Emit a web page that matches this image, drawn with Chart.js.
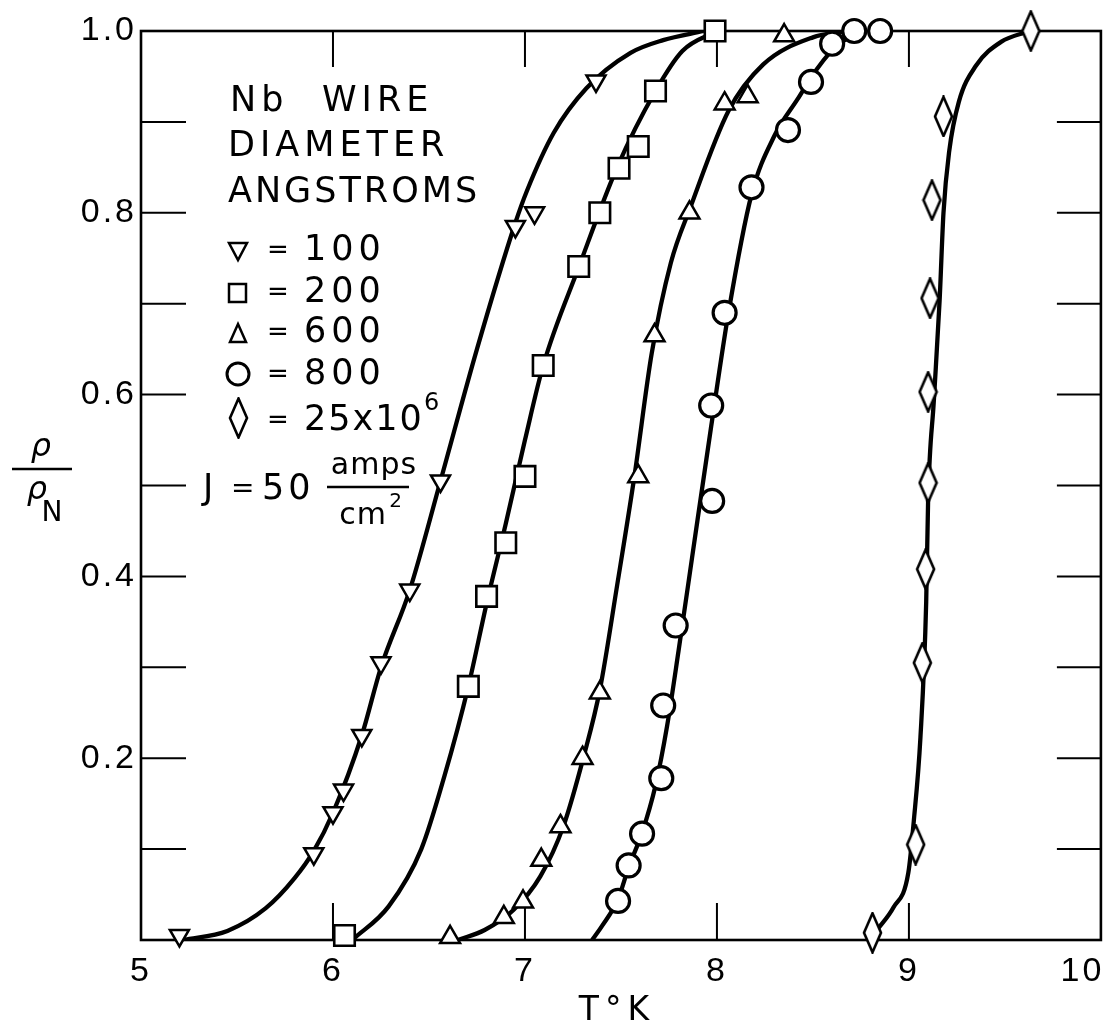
<!DOCTYPE html>
<html>
<head>
<meta charset="utf-8">
<title>Nb wire resistive transition</title>
<script src="https://cdn.jsdelivr.net/npm/chart.js@4.4.1/dist/chart.umd.min.js"></script>
<style>
  html, body { margin: 0; padding: 0; background: #fff; }
  #wrap { width: 1118px; height: 1028px; }
</style>
</head>
<body>
<div id="wrap"><canvas id="chart" width="1118" height="1028"></canvas></div>
<script>
// axis ticks
const xTicks = [5, 6, 7, 8, 9, 10]
const yTicks = [0.2, 0.4, 0.6, 0.8, 1.0]
const xInner = [6, 7, 8, 9]
const yInner = [0.1, 0.2, 0.3, 0.4, 0.5, 0.6, 0.7, 0.8, 0.9]

// measured points (T in K, rho / rho_N)
const t100 = [5.20, 5.90, 6.00, 6.055, 6.15, 6.25, 6.40, 6.56, 6.95, 7.05, 7.37]
const r100 = [0.005, 0.095, 0.14, 0.165, 0.225, 0.305, 0.385, 0.505, 0.785, 0.80, 0.945]

const t200 = [6.06, 6.705, 6.80, 6.90, 7.00, 7.095, 7.28, 7.39, 7.49, 7.59, 7.68, 7.99]
const r200 = [0.005, 0.279, 0.378, 0.437, 0.51, 0.632, 0.741, 0.80, 0.849, 0.873, 0.934, 1.0]

const t600 = [6.61, 6.89, 6.99, 7.085, 7.185, 7.30, 7.39, 7.59, 7.675, 7.857, 8.04, 8.16, 8.35]
const r600 = [0.003, 0.025, 0.042, 0.088, 0.125, 0.20, 0.272, 0.51, 0.665, 0.80, 0.92, 0.928, 0.995]

const t800 = [7.485, 7.54, 7.61, 7.71, 7.72, 7.785, 7.975, 7.97, 8.04, 8.18, 8.37, 8.49, 8.60, 8.715, 8.85]
const r800 = [0.043, 0.082, 0.117, 0.178, 0.258, 0.346, 0.483, 0.588, 0.69, 0.828, 0.891, 0.944, 0.986, 1.0, 1.0]

const tBulk = [8.81, 9.035, 9.07, 9.087, 9.10, 9.10, 9.11, 9.12, 9.18, 9.635]
const rBulk = [0.008, 0.105, 0.305, 0.408, 0.503, 0.603, 0.706, 0.814, 0.906, 1.0]

// hand-drawn fit curves
const c100T = [5.22, 5.45, 5.65, 5.80, 5.90, 6.00, 6.15, 6.25, 6.40, 6.56, 6.75, 6.95, 7.01, 7.15, 7.32, 7.55, 7.72, 7.93]
const c100R = [0.0, 0.01, 0.035, 0.068, 0.098, 0.14, 0.225, 0.30, 0.385, 0.505, 0.65, 0.789, 0.824, 0.888, 0.937, 0.976, 0.99, 1.0]

const c200T = [6.10, 6.29, 6.46, 6.58, 6.705, 6.80, 6.90, 7.00, 7.095, 7.28, 7.48, 7.68, 7.82, 8.0]
const c200R = [0.0, 0.037, 0.10, 0.18, 0.279, 0.37, 0.458, 0.55, 0.632, 0.74, 0.85, 0.934, 0.978, 1.0]

const c600T = [6.65, 6.79, 6.94, 7.08, 7.20, 7.31, 7.39, 7.48, 7.57, 7.66, 7.76, 7.86, 8.06, 8.24, 8.50, 8.68]
const c600R = [0.0, 0.011, 0.033, 0.07, 0.125, 0.205, 0.275, 0.39, 0.51, 0.645, 0.745, 0.805, 0.912, 0.963, 0.993, 1.0]

const c800T = [7.35, 7.40, 7.485, 7.54, 7.61, 7.68, 7.74, 7.80, 7.87, 7.97, 8.06, 8.18, 8.30, 8.42, 8.52, 8.63, 8.78]
const c800R = [0.0, 0.015, 0.045, 0.08, 0.118, 0.17, 0.235, 0.318, 0.42, 0.565, 0.69, 0.82, 0.885, 0.925, 0.958, 0.985, 1.0]

const cBulkT = [8.83, 8.92, 8.997, 9.025, 9.06, 9.09, 9.10, 9.13, 9.16, 9.18, 9.21, 9.26, 9.35, 9.48, 9.63]
const cBulkR = [0.01, 0.036, 0.074, 0.13, 0.223, 0.372, 0.484, 0.594, 0.704, 0.80, 0.868, 0.922, 0.962, 0.988, 1.0]

const FONT = "'DejaVu Sans', sans-serif"
const TICK_FONT = "'Liberation Sans', Arial, sans-serif"
const AREA = { left: 141, top: 31, right: 1107, bottom: 940 }

function pts(xs, ys) {
    return xs.map((x, i) => ({ x: x, y: ys[i] }))
}

// tall open diamond used for the bulk sample
function diamondImage() {
    const c = document.createElement('canvas')
    c.width = 21
    c.height = 42
    const g = c.getContext('2d')
    g.beginPath()
    g.moveTo(10.5, 1.5)
    g.lineTo(19, 21)
    g.lineTo(10.5, 40.5)
    g.lineTo(2, 21)
    g.closePath()
    g.fillStyle = '#fff'
    g.fill()
    g.lineWidth = 2.6
    g.strokeStyle = '#000'
    g.stroke()
    return c
}
const diamond = diamondImage()

function curve(xs, ys) {
    return {
        data: pts(xs, ys),
        showLine: true,
        borderColor: '#000',
        borderWidth: 4.3,
        pointRadius: 0,
        cubicInterpolationMode: 'monotone',
        order: 2
    }
}

function marks(xs, ys, style) {
    return Object.assign({
        data: pts(xs, ys),
        showLine: false,
        pointBackgroundColor: '#fff',
        pointBorderColor: '#000',
        clip: false,
        order: 1
    }, style)
}

// frame, inward ticks and all the annotation text
const decor = {
    id: 'decor',
    beforeDraw(chart) {
        chart.ctx.letterSpacing = '3px'
    },
    beforeDatasetsDraw(chart) {
        const { ctx, chartArea: a, scales: { x, y } } = chart
        ctx.save()
        ctx.strokeStyle = '#000'
        ctx.lineWidth = 2
        ctx.beginPath()
        yInner.forEach(v => {
            const py = y.getPixelForValue(v)
            ctx.moveTo(a.left, py)
            ctx.lineTo(a.left + 45, py)
            ctx.moveTo(a.right, py)
            ctx.lineTo(a.right - 44, py)
        })
        xInner.forEach(v => {
            const px = x.getPixelForValue(v)
            ctx.moveTo(px, a.top)
            ctx.lineTo(px, a.top + 36)
            ctx.moveTo(px, a.bottom)
            ctx.lineTo(px, a.bottom - 37)
        })
        ctx.stroke()
        ctx.lineWidth = 2.6
        ctx.strokeRect(a.left, a.top, a.right - a.left, a.bottom - a.top)
        ctx.restore()
    },
    afterDraw(chart) {
        const ctx = chart.ctx
        ctx.save()
        ctx.fillStyle = '#000'
        ctx.strokeStyle = '#000'
        ctx.textBaseline = 'middle'
        ctx.textAlign = 'left'

        // heading
        ctx.font = '35px ' + FONT
        ctx.letterSpacing = '5px'
        ctx.fillText('Nb', 230, 102)
        ctx.fillText('WIRE', 322, 102)
        ctx.fillText('DIAMETER', 228, 147)
        ctx.letterSpacing = '3px'
        ctx.fillText('ANGSTROMS', 228, 193)

        // symbol rows
        const rows = [['100', 251], ['200', 293], ['600', 333], ['800', 375], ['25x10', 421]]
        rows.forEach(([txt, yy], i) => {
            ctx.font = '26px ' + FONT
            ctx.letterSpacing = '0px'
            ctx.textAlign = 'center'
            ctx.fillText('=', 278, yy)
            ctx.textAlign = 'left'
            ctx.font = '35px ' + FONT
            ctx.letterSpacing = i === 4 ? '2px' : '5px'
            ctx.fillText(txt, 304, yy)
        })
        ctx.letterSpacing = '0px'
        ctx.font = '24px ' + FONT
        ctx.fillText('6', 424, 404)

        ctx.lineWidth = 2.5
        ctx.fillStyle = '#fff'
        // triangle down
        ctx.beginPath()
        ctx.moveTo(229, 243); ctx.lineTo(247, 243); ctx.lineTo(238, 260); ctx.closePath()
        ctx.fill(); ctx.stroke()
        // square
        ctx.beginPath()
        ctx.rect(229, 284, 17, 18)
        ctx.fill(); ctx.stroke()
        // triangle up
        ctx.beginPath()
        ctx.moveTo(238, 324); ctx.lineTo(246, 342); ctx.lineTo(230, 342); ctx.closePath()
        ctx.fill(); ctx.stroke()
        // circle
        ctx.lineWidth = 3
        ctx.beginPath()
        ctx.arc(238, 374, 11, 0, Math.PI * 2)
        ctx.fill(); ctx.stroke()
        ctx.drawImage(diamond, 228, 397)

        // current density
        ctx.fillStyle = '#000'
        ctx.font = '35px ' + FONT
        ctx.letterSpacing = '0px'
        ctx.fillText('J', 203, 490)
        ctx.font = '28px ' + FONT
        ctx.fillText('=', 231, 490)
        ctx.font = '35px ' + FONT
        ctx.letterSpacing = '4px'
        ctx.fillText('50', 262, 490)
        ctx.font = '30px ' + FONT
        ctx.letterSpacing = '1px'
        ctx.textAlign = 'center'
        ctx.fillText('amps', 374, 466)
        ctx.fillText('cm', 363, 516)
        ctx.font = '20px ' + FONT
        ctx.fillText('2', 396, 502)
        ctx.lineWidth = 2.4
        ctx.beginPath()
        ctx.moveTo(327, 487); ctx.lineTo(409, 487)
        ctx.stroke()

        // y axis title: rho / rho_N
        ctx.letterSpacing = '0px'
        ctx.font = 'italic 32px ' + FONT
        ctx.fillText('\u03c1', 41, 448)
        ctx.fillText('\u03c1', 37, 491)
        ctx.font = '28px ' + FONT
        ctx.fillText('N', 52, 514)
        ctx.beginPath()
        ctx.moveTo(12, 469); ctx.lineTo(72, 469)
        ctx.stroke()

        // x axis title
        ctx.font = '33px ' + FONT
        ctx.letterSpacing = '6px'
        ctx.fillText('T\u00b0K', 617, 1011)
        ctx.restore()
    }
}

const chart = new Chart(document.getElementById('chart'), {
    type: 'scatter',
    data: {
        datasets: [
            curve(c100T, c100R),
            curve(c200T, c200R),
            curve(c600T, c600R),
            curve(c800T, c800R),
            curve(cBulkT, cBulkR),
            marks(t100, r100, { pointStyle: 'triangle', rotation: 180, pointRadius: 11, pointBorderWidth: 2.5 }),
            marks(t200, r200, { pointStyle: 'rect', pointRadius: 14.5, pointBorderWidth: 2.6 }),
            marks(t600, r600, { pointStyle: 'triangle', pointRadius: 11.5, pointBorderWidth: 2.5 }),
            marks(t800, r800, { pointStyle: 'circle', pointRadius: 11.5, pointBorderWidth: 3.2 }),
            marks(tBulk, rBulk, { pointStyle: diamond })
        ]
    },
    options: {
        responsive: false,
        animation: false,
        events: [],
        devicePixelRatio: 1,
        layout: { padding: { top: AREA.top, right: 1118 - AREA.right, left: 0, bottom: 0 } },
        plugins: {
            legend: { display: false },
            tooltip: { enabled: false }
        },
        scales: {
            x: {
                type: 'linear',
                min: 5,
                max: 10,
                afterBuildTicks: s => { s.ticks = xTicks.map(v => ({ value: v })) },
                ticks: {
                    color: '#000',
                    font: { family: TICK_FONT, size: 34 },
                    padding: 11,
                    maxRotation: 0,
                    autoSkip: false,
                    // the last label sits a little inside the frame in the original
                    callback: v => v === 10 ? '10\u2003' : String(v)
                },
                grid: { display: false, drawTicks: false },
                border: { display: false },
                afterFit: s => { s.height = 1028 - AREA.bottom; s.paddingLeft = 0; s.paddingRight = 0 }
            },
            y: {
                type: 'linear',
                min: 0,
                max: 1,
                afterBuildTicks: s => { s.ticks = yTicks.map(v => ({ value: v })) },
                ticks: {
                    color: '#000',
                    font: { family: TICK_FONT, size: 34 },
                    padding: 4,
                    callback: v => v.toFixed(1)
                },
                grid: { display: false, drawTicks: false },
                border: { display: false },
                afterFit: s => { s.width = AREA.left; s.paddingTop = 0; s.paddingBottom = 0 }
            }
        }
    },
    plugins: [decor]
})

// nudge the layout so the plot frame lands where the original frame is
const pad = chart.options.layout.padding
const dr = chart.chartArea.right - AREA.right
const dt = chart.chartArea.top - AREA.top
if (Math.abs(dr) > 0.5 || Math.abs(dt) > 0.5) {
    pad.right += dr
    pad.top -= dt
    chart.update()
}
</script>
</body>
</html>
